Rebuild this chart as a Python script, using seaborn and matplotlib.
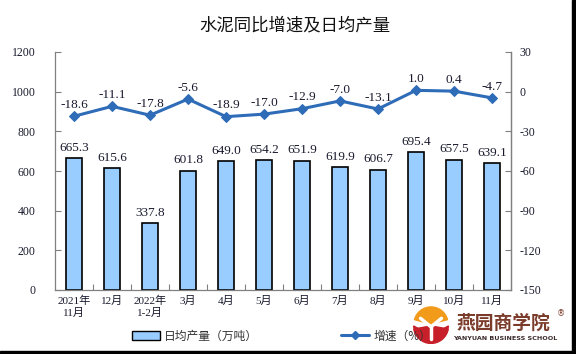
import numpy as np
import pandas as pd
import matplotlib
matplotlib.use("Agg")
import matplotlib.pyplot as plt
import matplotlib.patches as mpatches
from matplotlib.lines import Line2D
import seaborn as sns

categories = ["2021年\n11月", "12月", "2022年\n1-2月", "3月", "4月", "5月", "6月",
              "7月", "8月", "9月", "10月", "11月"]
output = [665.3, 615.6, 337.8, 601.8, 649.0, 654.2, 651.9, 619.9, 606.7, 695.4, 657.5, 639.1]
growth = [-18.6, -11.1, -17.8, -5.6, -18.9, -17.0, -12.9, -7.0, -13.1, 1.0, 0.4, -4.7]
left_ticks = [0, 200, 400, 600, 800, 1000, 1200]
right_ticks = [-150, -120, -90, -60, -30, 0, 30]
title = "水泥同比增速及日均产量"
bar_label = "日均产量（万吨）"
line_label = "增速（%）"

sns.set_theme(style="white")
FAM = ["Liberation Serif", "Noto Sans CJK SC", "DejaVu Sans"]
plt.rcParams["font.family"] = FAM

BAR_COLOR = "#99ccff"
LINE_COLOR = "#2e6cb8"
SPINE = "#808080"
TXT = "#1a1a2e"

df = pd.DataFrame({"cat": categories, "output": output, "growth": growth,
                   "pos": np.arange(len(categories))})

fig = plt.figure(figsize=(5.76, 3.54), dpi=100)
ax = fig.add_axes([55/576, 1-290/354, (511-55)/576, (290-52)/354])

sns.barplot(data=df, x="cat", y="output", ax=ax, color=BAR_COLOR, width=0.4,
            edgecolor="black", linewidth=1.2, saturation=1)
ax.set_ylim(0, 1200)
ax.set_xlim(-0.5, len(categories) - 0.5)
ax.set_yticks(left_ticks)
ax.set_yticklabels([str(v) for v in left_ticks], fontsize=8.5, color=TXT)
ax.set_xticks(np.arange(len(categories)))
ax.set_xticklabels(categories, fontsize=8, color=TXT, linespacing=1.3)
ax.set_xticks(np.arange(len(categories) - 1) + 0.5, minor=True)
ax.tick_params(axis="x", which="major", length=0, pad=4)
ax.tick_params(axis="x", which="minor", length=4, direction="in", color=SPINE, width=0.8, bottom=True)
ax.tick_params(axis="y", length=4, direction="in", color=SPINE, width=0.8, left=True, pad=14)
ax.set_xlabel("")
ax.set_ylabel("")
ax.spines["top"].set_visible(False)
for s in ["left", "bottom", "right"]:
    ax.spines[s].set_color(SPINE)
    ax.spines[s].set_linewidth(0.9)

for i, v in enumerate(output):
    ax.text(i, v + 22, f"{v:.1f}", ha="center", va="bottom", fontsize=9.5, color=TXT)

ax2 = ax.twinx()
sns.lineplot(data=df, x="pos", y="growth", ax=ax2, color=LINE_COLOR, linewidth=2.2,
             marker="D", markersize=5, markeredgecolor=LINE_COLOR)
ax2.set_ylim(-150, 30)
ax2.set_xlim(-0.5, len(categories) - 0.5)
ax2.set_yticks(right_ticks)
ax2.set_yticklabels([str(v) for v in right_ticks], fontsize=8.5, color=TXT)
ax2.tick_params(axis="y", length=4, direction="in", color=SPINE, width=0.8, right=True, pad=6)
ax2.set_xlabel("")
ax2.set_ylabel("")
for s in ["top", "left", "bottom"]:
    ax2.spines[s].set_visible(False)
ax2.spines["right"].set_color(SPINE)
ax2.spines["right"].set_linewidth(0.9)

for i, v in enumerate(growth):
    ax2.text(i, v + 4, f"{v:.1f}", ha="center", va="bottom", fontsize=9.5, color=TXT)

fig.text(295/576, 1-25/354, title, ha="center", va="center", fontsize=12.5,
         family=["Noto Sans CJK SC", "DejaVu Sans"], color="#111111")

handles = [mpatches.Patch(facecolor=BAR_COLOR, edgecolor="black", linewidth=1.0),
           Line2D([0], [0], color=LINE_COLOR, linewidth=2.2, marker="D", markersize=4)]
fig.legend(handles, [bar_label, line_label], loc="center left",
           bbox_to_anchor=(121/576, 1-336/354), ncol=2, frameon=False,
           handlelength=2.4, handleheight=0.7, columnspacing=7.0,
           handletextpad=0.35, prop={"family": ["Noto Sans CJK SC", "DejaVu Sans"], "size": 8.5},
           labelcolor="#333333")

# watermark logo (drawn over the legend, as in the reference)
logo = fig.add_axes([(431-19)/576, 1-(325+19)/354, 38/576, 38/354])
logo.set_xlim(-1, 1); logo.set_ylim(-1, 1); logo.axis("off")
logo.set_zorder(5)
logo.add_patch(mpatches.Circle((0, 0), 0.95, color="white"))
logo.add_patch(mpatches.Wedge((0, 0.05), 0.9, 15, 165, color="#f29a1a"))
logo.add_patch(mpatches.Wedge((0, -0.05), 0.92, 190, 350, color="#c8202a"))
logo.add_patch(mpatches.Polygon([[-0.92, -0.05], [0, -0.55], [0.92, -0.05], [0.85, -0.35],
                                 [0, -0.95], [-0.85, -0.35]], color="#c8202a"))
logo.plot([-0.55, 0, 0.55], [0.35, -0.1, 0.35], color="white", linewidth=2.5)
logo.plot([0, 0], [-0.1, -0.75], color="white", linewidth=2.5)
fig.text(457/576, 1-323/354, "燕园商学院", ha="left", va="center", fontsize=13.5,
         fontweight="bold", family=["Noto Sans CJK SC"], color="#7a3b2a", zorder=6)
fig.text(561/576, 1-314/354, "®", ha="center", va="center", fontsize=6, color="#7a3b2a",
         family=["DejaVu Sans"], zorder=6)
fig.text(505/576, 1-338/354, "YANYUAN BUSINESS SCHOOL", ha="center", va="center",
         fontsize=4.6, fontweight="bold", family=["DejaVu Sans"], color="#3a2a2a", zorder=6)

# black border on the right and bottom edges
fig.patches.append(mpatches.Rectangle((572/576, 0), 4/576, 1, transform=fig.transFigure,
                                      color="black", zorder=10))
fig.patches.append(mpatches.Rectangle((0, 0), 1, 3/354, transform=fig.transFigure,
                                      color="black", zorder=10))

fig.savefig("out.png", dpi=100)
